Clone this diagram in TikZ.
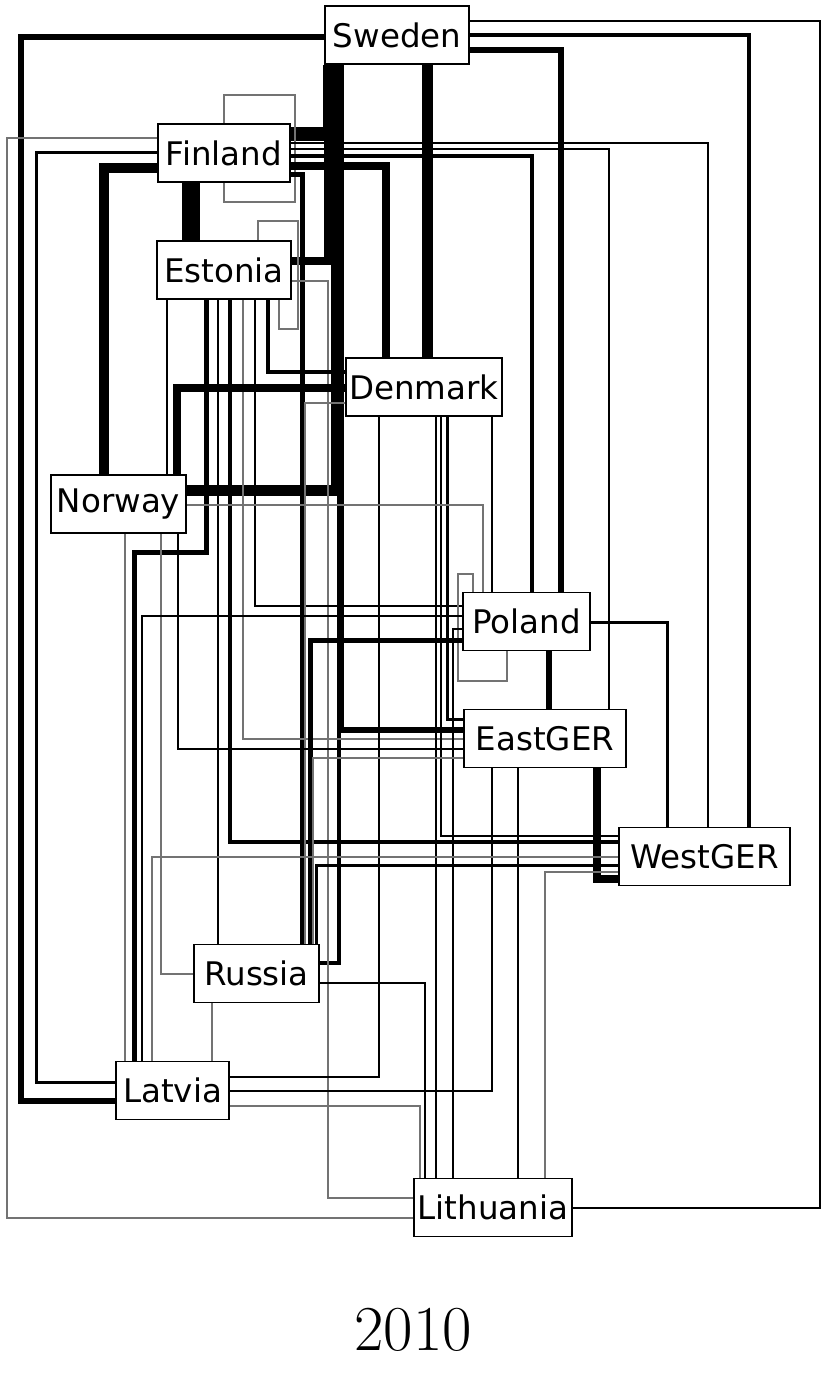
\documentclass[tikz,border=0pt]{standalone}
\usepackage{fontspec}
\newfontfamily\boxfont{DejaVu Sans}
\usetikzlibrary{backgrounds}

\tikzset{
	country/.style={draw, line width=1.5pt, fill=white, minimum height=58pt, inner sep=0pt,
		font=\boxfont\fontsize{32.5}{39}\selectfont},
	link/.style={black, line width=#1pt},
	faint/.style={black!55, line width=1.2pt}
}

\begin{document}
\begin{tikzpicture}[x=1pt, y=-1pt]
	\useasboundingbox (0,0) rectangle (826,1375);
	\node[country, minimum width=144pt] (Sweden) at (397,35) {Sweden};
	\node[country, minimum width=132pt] (Finland) at (224,153) {Finland};
	\node[country, minimum width=134pt] (Estonia) at (224,270) {Estonia};
	\node[country, minimum width=156pt] (Denmark) at (424,387) {Denmark};
	\node[country, minimum width=135pt] (Norway) at (118.5,504) {Norway};
	\node[country, minimum width=127pt] (Poland) at (526.5,621.5) {Poland};
	\node[country, minimum width=162pt] (EastGER) at (545,738.5) {EastGER};
	\node[country, minimum width=171pt] (WestGER) at (704.5,856.5) {WestGER};
	\node[country, minimum width=125pt] (Russia) at (256.5,973.5) {Russia};
	\node[country, minimum width=113pt] (Latvia) at (172.5,1090.5) {Latvia};
	\node[country, minimum width=158pt] (Lithuania) at (493,1207.5) {Lithuania};
	\node[font=\fontsize{64}{74}\selectfont] (year) at (413,1330) {2010};

	\begin{scope}[on background layer]
	% Sweden
	\draw[link=6] (Sweden.west |- 0,37) -| (21,1101) -- (Latvia.west |- 0,1101);
	\draw[link=2.5] (Sweden.east |- 0,21) -| (820,1208) -- (Lithuania.east |- 0,1208);
	\draw[link=3.5] (Sweden.east |- 0,35) -| (WestGER.north -| 749,0);
	\draw[link=6] (Sweden.east |- 0,50) -| (Poland.north -| 561,0);
	\draw[link=14] (Sweden.south -| 330,0) |- (Finland.east |- 0,134);
	\draw[link=8] (Sweden.south -| 328,0) |- (Estonia.east |- 0,261);
	\draw[link=11] (Sweden.south -| 336,0) |- (Norway.east |- 0,490);
	\draw[link=6] (Sweden.south -| 341,0) |- (EastGER.west |- 0,730);
	\draw[link=4] (Sweden.south -| 339,0) |- (Russia.east |- 0,963);
	\draw[link=11] (Sweden.south -| 427,0) -- (Denmark.north -| 427,0);
	% Finland
	\draw[faint] (Finland.west |- 0,138) -| (7,1218) -- (Lithuania.west |- 0,1218);
	\draw[link=3] (Finland.west |- 0,153) -| (36,1082) -- (Latvia.west |- 0,1082);
	\draw[link=10] (Finland.west |- 0,168) -| (Norway.north -| 104,0);
	\draw[faint] (Finland.north) |- (295,95) |- (224,202) -- (Finland.south);
	\draw[link=18] (Finland.south -| 191,0) -- (Estonia.north -| 191,0);
	\draw[link=1.5] (Finland.east |- 0,143) -| (WestGER.north -| 708,0);
	\draw[link=2.5] (Finland.east |- 0,149) -| (EastGER.north -| 609,0);
	\draw[link=4] (Finland.east |- 0,156) -| (Poland.north -| 532,0);
	\draw[link=8] (Finland.east |- 0,166) -| (Denmark.north -| 386,0);
	\draw[link=5] (Finland.east |- 0,175) -| (Russia.north -| 302,0);
	% Estonia
	\draw[faint] (Estonia.north -| 258,0) |- (298,221) |- (279,329) -- (Estonia.south -| 279,0);
	\draw[faint] (Estonia.east |- 0,281) -| (328,1198) -- (Lithuania.west |- 0,1198);
	\draw[link=2] (Estonia.south -| 167,0) -- (Norway.north -| 167,0);
	\draw[link=5] (Estonia.south -| 206,0) |- (134,552) -- (Latvia.north -| 134,0);
	\draw[link=2] (Estonia.south -| 218,0) -- (Russia.north -| 218,0);
	\draw[link=4] (Estonia.south -| 230,0) |- (WestGER.west |- 0,842);
	\draw[faint] (Estonia.south -| 243,0) |- (EastGER.west |- 0,739);
	\draw[link=1.5] (Estonia.south -| 255,0) |- (Poland.west |- 0,606);
	\draw[link=4] (Estonia.south -| 268,0) |- (Denmark.west |- 0,372);
	% Denmark
	\draw[link=8] (Denmark.west |- 0,388) -| (Norway.north -| 177,0);
	\draw[faint] (Denmark.west |- 0,403) -| (Russia.north -| 305,0);
	\draw[link=2] (Denmark.south -| 379,0) |- (Latvia.east |- 0,1077);
	\draw[link=1.5] (Denmark.south -| 436,0) -- (Lithuania.north -| 436,0);
	\draw[link=2.5] (Denmark.south -| 441,0) |- (WestGER.west |- 0,836);
	\draw[link=3] (Denmark.south -| 447,0) |- (EastGER.west |- 0,719);
	\draw[link=2] (Denmark.south -| 492,0) -- (Poland.north -| 492,0);
	% Norway
	\draw[faint] (Norway.east |- 0,505) -| (Poland.north -| 483,0);
	\draw[faint] (Norway.south -| 125,0) -- (Latvia.north -| 125,0);
	\draw[faint] (Norway.south -| 161,0) |- (Russia.west |- 0,974);
	\draw[link=1.5] (Norway.south -| 178,0) |- (EastGER.west |- 0,749);
	% Poland
	\draw[faint] (Poland.north -| 473,0) |- (458,574) |- (507,681) -- (Poland.south -| 507,0);
	\draw[link=2] (Poland.west |- 0,616) -| (Latvia.north -| 142,0);
	\draw[link=2] (Poland.west |- 0,629) -| (Lithuania.north -| 453,0);
	\draw[link=5] (Poland.west |- 0,640) -| (Russia.north -| 310,0);
	\draw[link=6] (Poland.south -| 549,0) -- (EastGER.north -| 549,0);
	\draw[link=3] (Poland.east |- 0,622) -| (WestGER.north -| 667,0);
	% EastGER
	\draw[faint] (EastGER.west |- 0,758) -| (Russia.north -| 313,0);
	\draw[link=2] (EastGER.south -| 492,0) |- (Latvia.east |- 0,1091);
	\draw[link=1.5] (EastGER.south -| 518,0) -- (Lithuania.north -| 518,0);
	\draw[link=8] (EastGER.south -| 597,0) |- (WestGER.west |- 0,879);
	% WestGER
	\draw[faint] (WestGER.west |- 0,857) -| (Latvia.north -| 152,0);
	\draw[link=3] (WestGER.west |- 0,865) -| (Russia.north -| 316,0);
	\draw[faint] (WestGER.west |- 0,872) -| (Lithuania.north -| 545,0);
	% Russia, Latvia
	\draw[link=2.5] (Russia.east |- 0,983) -| (Lithuania.north -| 425,0);
	\draw[faint] (Russia.south -| 212,0) -- (Latvia.north -| 212,0);
	\draw[faint] (Latvia.east |- 0,1106) -| (Lithuania.north -| 420,0);
	\end{scope}
\end{tikzpicture}
\end{document}
